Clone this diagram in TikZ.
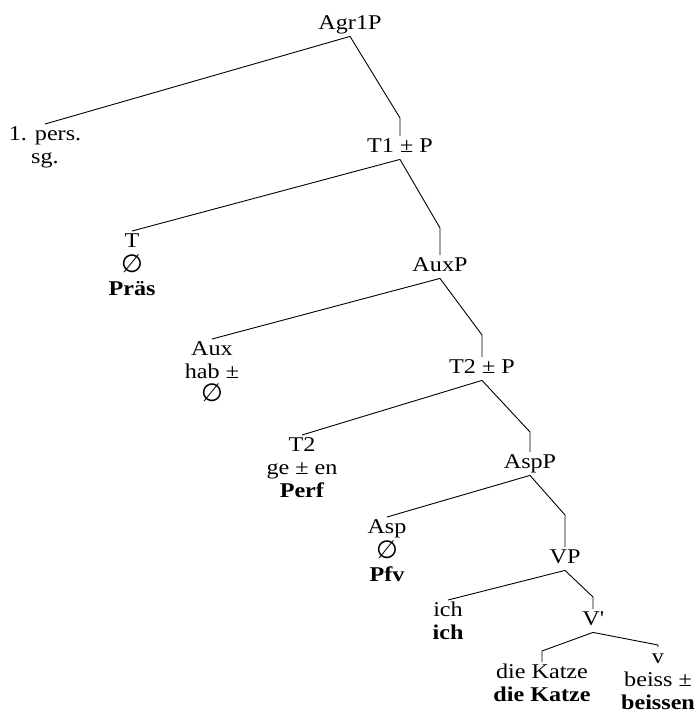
\documentclass[tikz,border=0pt]{standalone}
\usepackage{fontspec}
\setmainfont[FakeStretch=1.15]{Liberation Serif}
\newfontfamily\symf{DejaVu Sans}
\newcommand{\emptyglyph}{{\symf\fontsize{25}{23}\selectfont ∅}}
\begin{document}
\begin{tikzpicture}[x=1pt,y=-1pt,
  lbl/.style={font=\fontsize{21}{23}\selectfont, inner sep=0pt, anchor=north, align=center},
  edge/.style={line width=0.9pt, black}]
\useasboundingbox (0,0) rectangle (698,713);
% nodes
\node[lbl] (agr)   at (350,13)  {\strut Agr1P};
\node[lbl] (pers)  at (45,124)  {\strut 1. pers.\\ sg.};
\node[lbl] (t1p)   at (400,136) {\strut T1 ± P};
\node[lbl] (t)     at (132,231) {\strut T\\ \emptyglyph\\ \textbf{Präs}};
\node[lbl] (auxp)  at (440,255) {\strut AuxP};
\node[lbl] (aux)   at (212,339) {\strut Aux\\ hab ±\\ \emptyglyph};
\node[lbl] (t2p)   at (482,357) {\strut T2 ± P};
\node[lbl] (t2)    at (302,435) {\strut T2\\ ge ± en\\ \textbf{Perf}};
\node[lbl] (aspp)  at (530,452) {\strut AspP};
\node[lbl] (asp)   at (387,517) {\strut Asp\\ \emptyglyph\\ \textbf{Pfv}};
\node[lbl] (vp)    at (565,547) {\strut VP};
\node[lbl] (ich)   at (448,600) {\strut ich\\ \textbf{ich}};
\node[lbl] (vbar)  at (593,609) {\strut V\textquotesingle};
\node[lbl] (katze) at (542,662) {\strut die Katze\\ \textbf{die Katze}};
\node[lbl] (v)     at (658,647) {\strut v\\ beiss ±\\ \textbf{beissen}};
% bend points
\coordinate (b1) at (400,118);
\coordinate (b2) at (440,228);
\coordinate (b3) at (482,335);
\coordinate (b4) at (530,432);
\coordinate (b5) at (565,515);
\coordinate (b6) at (593,597);
\coordinate (b7) at (542,651);
\coordinate (b8) at (658,645);
% connectors
\draw[edge] (agr.south) -- (pers.north);
\draw[edge] (agr.south) -- (b1) -- (t1p.north);
\draw[edge] (t1p.south) -- (t.north);
\draw[edge] (t1p.south) -- (b2) -- (auxp.north);
\draw[edge] (auxp.south) -- (aux.north);
\draw[edge] (auxp.south) -- (b3) -- (t2p.north);
\draw[edge] (t2p.south) -- (t2.north);
\draw[edge] (t2p.south) -- (b4) -- (aspp.north);
\draw[edge] (aspp.south) -- (asp.north);
\draw[edge] (aspp.south) -- (b5) -- (vp.north);
\draw[edge] (vp.south) -- (ich.north);
\draw[edge] (vp.south) -- (b6) -- (vbar.north);
\draw[edge] (vbar.south) -- (b7) -- (katze.north);
\draw[edge] (vbar.south) -- (b8) -- (v.north);
\end{tikzpicture}
\end{document}
